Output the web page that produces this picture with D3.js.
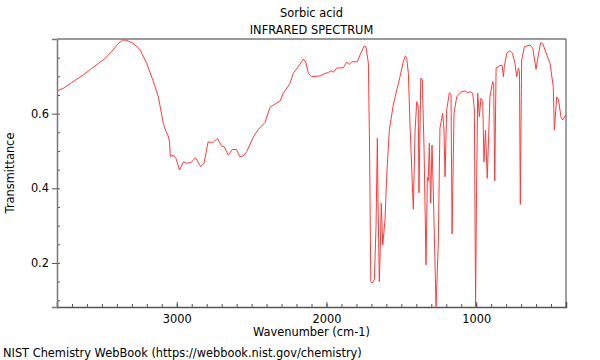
<!DOCTYPE html>
<html>
<head>
<meta charset="utf-8">
<script src="https://cdn.jsdelivr.net/npm/d3@7"></script>
<style>
  body { margin: 0; background: #fff; }
  text { font-family: "DejaVu Sans", sans-serif; font-size: 11.4px; fill: #000; }
</style>
</head>
<body>
<div id="chart"></div>
<script>
var width = 600;
var height = 360;

var margin = { top: 39, right: 34, bottom: 53, left: 57 };

// spectrum: wavenumber (cm-1) and transmittance
var wavenumber = [
  3800, 3758, 3702, 3624, 3558, 3479, 3424, 3393, 3361, 3339, 3290, 3246, 3201, 3157,
  3123, 3090, 3072, 3057, 3048, 3043, 3023, 3005, 2982, 2955, 2934, 2905, 2875, 2841,
  2818, 2791, 2756, 2729, 2700, 2682, 2656, 2629, 2601, 2580, 2555, 2533, 2489, 2455,
  2411, 2377, 2355, 2310, 2288, 2244, 2222, 2188, 2155, 2139, 2121, 2099, 2043, 2010,
  1988, 1970, 1954, 1932, 1887, 1865, 1847, 1831, 1794, 1776, 1749, 1736, 1720, 1712,
  1704, 1694, 1680, 1669, 1660, 1656, 1647, 1639, 1634, 1624, 1609, 1598, 1580, 1554,
  1509, 1487, 1473, 1464, 1453, 1442, 1430, 1420, 1408, 1397, 1392, 1387, 1382, 1370,
  1360, 1348, 1335, 1326, 1320, 1313, 1304, 1295, 1285, 1268, 1253, 1242, 1224, 1215,
  1208, 1197, 1179, 1168, 1161, 1148, 1130, 1097, 1075, 1057, 1041, 1023, 1012, 1004,
  998, 990, 979, 968, 956, 948, 938, 926, 908, 890, 883, 876, 867, 845,
  827, 818, 812, 796, 774, 758, 741, 729, 718, 711, 705, 699, 696, 678,
  640, 622, 600, 585, 569, 556, 533, 507, 485, 478, 462, 451, 433, 422,
  407, 400
];

var transmittance = [
  0.661, 0.668, 0.683, 0.704, 0.724, 0.748, 0.771, 0.787, 0.797, 0.797, 0.788, 0.772, 0.735, 0.687,
  0.645, 0.574, 0.552, 0.540, 0.524, 0.485, 0.489, 0.480, 0.449, 0.471, 0.467, 0.469, 0.482, 0.458,
  0.467, 0.524, 0.523, 0.534, 0.513, 0.511, 0.489, 0.504, 0.504, 0.485, 0.487, 0.498, 0.537, 0.558,
  0.576, 0.617, 0.623, 0.634, 0.655, 0.681, 0.708, 0.726, 0.746, 0.739, 0.708, 0.699, 0.701, 0.708,
  0.710, 0.715, 0.711, 0.722, 0.723, 0.738, 0.732, 0.739, 0.739, 0.757, 0.781, 0.779, 0.735, 0.503,
  0.150, 0.146, 0.156, 0.297, 0.534, 0.369, 0.150, 0.262, 0.360, 0.248, 0.315, 0.431, 0.556, 0.623,
  0.699, 0.739, 0.755, 0.748, 0.708, 0.570, 0.449, 0.344, 0.556, 0.632, 0.626, 0.619, 0.388, 0.695,
  0.692, 0.503, 0.195, 0.429, 0.420, 0.521, 0.360, 0.516, 0.369, 0.083, 0.253, 0.561, 0.601, 0.556,
  0.431, 0.610, 0.656, 0.650, 0.278, 0.601, 0.645, 0.659, 0.661, 0.656, 0.659, 0.655, 0.610, 0.083,
  0.369, 0.655, 0.592, 0.641, 0.632, 0.471, 0.556, 0.427, 0.645, 0.686, 0.677, 0.420, 0.722, 0.728,
  0.730, 0.699, 0.726, 0.762, 0.769, 0.762, 0.735, 0.699, 0.722, 0.712, 0.357, 0.637, 0.744, 0.779,
  0.784, 0.775, 0.719, 0.757, 0.790, 0.788, 0.763, 0.735, 0.672, 0.556, 0.645, 0.639, 0.590, 0.583,
  0.594, 0.596
];

var xTicks = [3000, 2000, 1000];
var yTicks = [0.2, 0.4, 0.6];

var spectrum = wavenumber.map(function(w, i) {
  return { wn: w, t: transmittance[i] };
});

var svg = d3.select("#chart")
  .append("svg")
  .attr("width", width)
  .attr("height", height);

var plotW = width - margin.left - margin.right;
var plotH = height - margin.top - margin.bottom;

var xScale = d3.scaleLinear()
  .domain([3800, 400])
  .range([margin.left, margin.left + plotW]);

var yScale = d3.scaleLinear()
  .domain([0.082, 0.8])
  .range([margin.top + plotH, margin.top]);

// minor ticks first, then major ones on top
var xMinor = d3.range(3800, 399, -100);
var yMinor = d3.range(0.1, 0.81, 0.05);

var xMinorAxis = d3.axisBottom(xScale).tickValues(xMinor).tickSize(-3).tickFormat("");
var xAxis = d3.axisBottom(xScale).tickValues(xTicks).tickSize(-5).tickPadding(8).tickFormat(d3.format("d"));
var yMinorAxis = d3.axisLeft(yScale).tickValues(yMinor).tickSize(-3).tickFormat("");
var yAxis = d3.axisLeft(yScale).tickValues(yTicks).tickSize(5).tickPadding(3).tickFormat(d3.format(".1f"));

var bottomY = margin.top + plotH;

svg.append("g")
  .attr("transform", "translate(0," + bottomY + ")")
  .call(xMinorAxis)
  .call(g => g.select(".domain").remove())
  .call(g => g.selectAll("line").attr("stroke", "#555"));

svg.append("g")
  .attr("class", "x axis")
  .attr("transform", "translate(0," + bottomY + ")")
  .call(xAxis)
  .call(g => g.select(".domain").attr("stroke", "#555").attr("stroke-width", 1.5))
  .call(g => g.selectAll("line").attr("stroke", "#555"))
  .call(g => g.selectAll("text").style("font-size", "11.4px").attr("dy", "0.71em"));

svg.append("g")
  .attr("transform", "translate(" + margin.left + ",0)")
  .call(yMinorAxis)
  .call(g => g.select(".domain").remove())
  .call(g => g.selectAll("line").attr("stroke", "#555"));

svg.append("g")
  .attr("transform", "translate(" + margin.left + ",0)")
  .call(yAxis)
  .call(g => g.select(".domain").attr("stroke", "#777").attr("stroke-width", 1.5))
  .call(g => g.selectAll("line").attr("stroke", "#555"))
  .call(g => g.selectAll("text").style("font-size", "11.4px"));

// top and right frame
svg.append("line")
  .attr("x1", margin.left).attr("x2", margin.left + plotW)
  .attr("y1", margin.top).attr("y2", margin.top)
  .attr("stroke", "#999")
  .attr("stroke-width", 2);

svg.append("line")
  .attr("x1", margin.left + plotW).attr("x2", margin.left + plotW)
  .attr("y1", margin.top).attr("y2", bottomY)
  .attr("stroke", "#444")
  .attr("stroke-width", 1);

var line = d3.line()
  .x(d => xScale(d.wn))
  .y(d => yScale(d.t));

svg.append("path")
  .datum(spectrum)
  .attr("d", line)
  .attr("fill", "none")
  .attr("stroke", "#ff3b3b")
  .attr("stroke-width", 1)
  .attr("stroke-linejoin", "round");

var midX = margin.left + plotW / 2;

svg.append("text")
  .text("Sorbic acid")
  .attr("x", midX)
  .attr("y", 17)
  .style("text-anchor", "middle");

svg.append("text")
  .text("INFRARED SPECTRUM")
  .attr("x", midX)
  .attr("y", 34)
  .style("text-anchor", "middle");

svg.append("text")
  .text("Wavenumber (cm-1)")
  .attr("x", midX)
  .attr("y", 336)
  .style("text-anchor", "middle");

svg.append("text")
  .text("Transmittance")
  .attr("transform", "rotate(-90)")
  .attr("x", -(margin.top + plotH / 2))
  .attr("y", 14)
  .style("text-anchor", "middle");

svg.append("text")
  .text("NIST Chemistry WebBook (https://webbook.nist.gov/chemistry)")
  .attr("x", 3)
  .attr("y", 357);
</script>
</body>
</html>
